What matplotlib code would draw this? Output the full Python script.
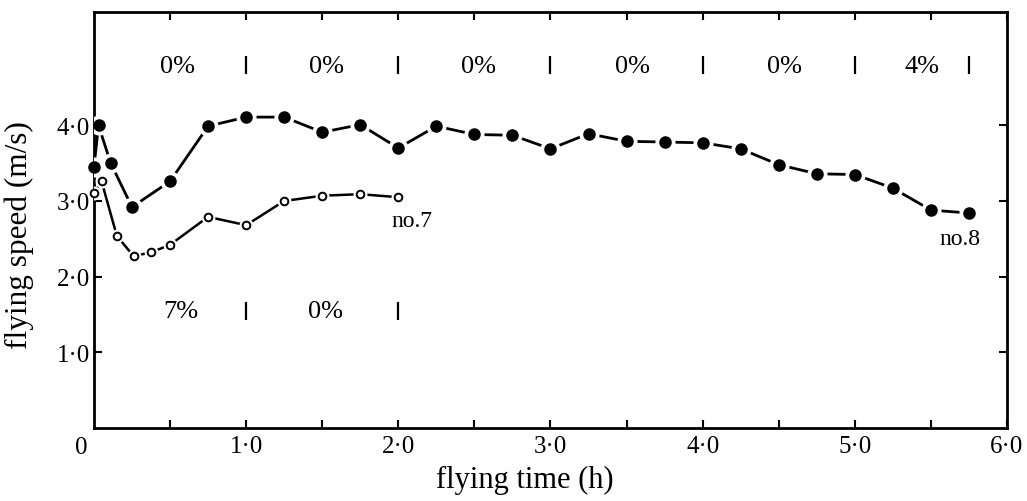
import matplotlib.pyplot as plt

plt.rcParams['font.family'] = ['Liberation Serif', 'DejaVu Serif']

# insect no.8 (filled) and no.7 (open): flying time (h) vs flying speed (m/s)
t8 = [0.0, 0.03, 0.11, 0.25, 0.5, 0.75, 1.0, 1.25, 1.5, 1.75, 2.0, 2.25, 2.5,
      2.75, 3.0, 3.25, 3.5, 3.75, 4.0, 4.25, 4.5, 4.75, 5.0, 5.25, 5.5, 5.75]
v8 = [3.45, 4.00, 3.50, 2.92, 3.26, 3.99, 4.11, 4.11, 3.91, 4.01, 3.70, 3.99, 3.88,
      3.87, 3.69, 3.89, 3.79, 3.78, 3.77, 3.69, 3.48, 3.36, 3.35, 3.17, 2.88, 2.84]
t7 = [0.0, 0.05, 0.15, 0.26, 0.375, 0.5, 0.75, 1.0, 1.25, 1.5, 1.75, 2.0]
v7 = [3.10, 3.26, 2.54, 2.27, 2.32, 2.42, 2.79, 2.68, 3.00, 3.07, 3.09, 3.05]

# percentages per interval and the separators between them
pct8_x = [0.55, 1.53, 2.53, 3.54, 4.54, 5.44]
pct8_txt = ['0%', '0%', '0%', '0%', '0%', '4%']
sep8_x = [1.0, 2.0, 3.0, 4.0, 5.0, 5.75]
pct7_x = [0.57, 1.52]
pct7_txt = ['7%', '0%']
sep7_x = [1.0, 2.0]

xticks = [0.5, 1.0, 1.5, 2.0, 2.5, 3.0, 3.5, 4.0, 4.5, 5.0, 5.5, 6.0]
xticklabels = ['', '1·0', '', '2·0', '', '3·0', '', '4·0', '', '5·0', '', '6·0']
yticks = [1.0, 2.0, 3.0, 4.0]
yticklabels = ['1·0', '2·0', '3·0', '4·0']

fig = plt.figure(figsize=(10.27, 5.02), dpi=100)
ax = fig.add_axes([0.0915, 0.146, 0.889, 0.828])

# lines with white halos so segments stop short of the markers
ax.plot(t8, v8, color='black', lw=2.0, zorder=2)
ax.plot(t8, v8, ls='none', marker='o', ms=13.5, mfc='white', mec='white', zorder=3)
ax.plot(t8, v8, ls='none', marker='o', ms=8, mfc='black', mec='black', zorder=4,
        clip_on=False)

ax.plot(t7, v7, color='black', lw=1.8, zorder=2)
ax.plot(t7, v7, ls='none', marker='o', ms=9, mfc='white', mec='white', zorder=3)
ax.plot(t7, v7, ls='none', marker='o', ms=5.5, mfc='white', mec='black', mew=1.4, zorder=4,
        clip_on=False)

for x, s in zip(pct8_x, pct8_txt):
    ax.text(x, 4.78, s, ha='center', va='center', fontsize=19)
ax.plot(sep8_x, [4.80] * len(sep8_x), ls='none', marker='|', ms=13, mew=1.6, color='black')
for x, s in zip(pct7_x, pct7_txt):
    ax.text(x, 1.54, s, ha='center', va='center', fontsize=19)
ax.plot(sep7_x, [1.55] * len(sep7_x), ls='none', marker='|', ms=13, mew=1.6, color='black')

ax.text(2.09, 2.74, 'no.7', ha='center', va='center', fontsize=17)
ax.text(5.69, 2.50, 'no.8', ha='center', va='center', fontsize=17)

ax.set_xlim(0, 6.0)
ax.set_ylim(0, 5.5)
ax.set_xticks(xticks)
ax.set_xticklabels(xticklabels, fontsize=18)
ax.set_yticks(yticks)
ax.set_yticklabels(yticklabels, fontsize=18)
ax.tick_params(direction='in', length=6, width=1.5, top=True, right=True)
ax.tick_params(axis='x', pad=5)
ax.tick_params(axis='y', pad=3)
ax.annotate('0', xy=(0, 0), xycoords='data', xytext=(-9, -14), textcoords='offset points',
            ha='center', va='center', fontsize=18)

for sp in ax.spines.values():
    sp.set_linewidth(2.0)

ax.set_xlabel('flying time (h)', fontsize=22)
ax.set_ylabel('flying speed (m/s)', fontsize=22.5)
ax.xaxis.set_label_coords(0.4715, -0.09)
ax.yaxis.set_label_coords(-0.066, 0.465)

plt.savefig('out.png', dpi=100)
